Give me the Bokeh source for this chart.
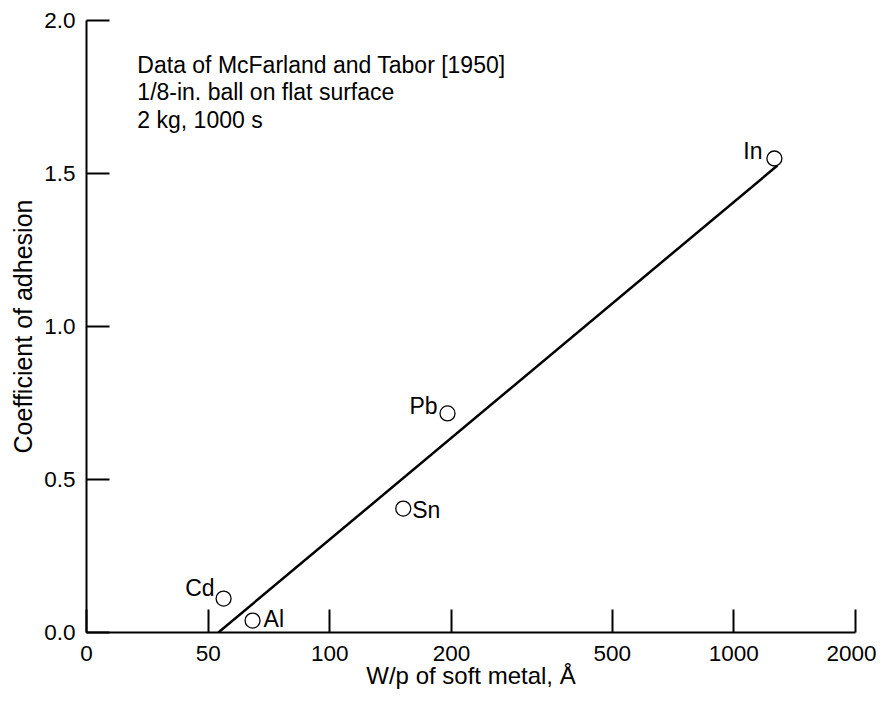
from bokeh.plotting import figure
from bokeh.models import Range1d, FixedTicker, PrintfTickFormatter, Label, ColumnDataSource
from bokeh.embed import file_html
from bokeh.resources import INLINE
from bokeh.core.properties import value

# ---- data ----
metals = ["Cd", "Al", "Sn", "Pb", "In"]
w_over_p = [54.6, 64.4, 152.0, 195.6, 1260.0]          # W/p of soft metal, Å
adhesion = [0.111, 0.039, 0.405, 0.716, 1.549]          # coefficient of adhesion
fit_x = [53.0, 1282.0]
fit_y = [0.0, 1.526]
x_ticks = [25, 50, 100, 200, 500, 1000, 2000]
x_tick_labels = ["0", "50", "100", "200", "500", "1000", "2000"]
y_ticks = [0.0, 0.5, 1.0, 1.5, 2.0]
notes = ["Data of McFarland and Tabor [1950]", "1/8-in. ball on flat surface", "2 kg, 1000 s"]

# ---- styling / placement (not data) ----
FONT = "Liberation Sans"
lab_align = ["right", "left", "left", "right", "right"]
lab_dx = [-9, 11, 9, -10, -12]
lab_dy = [-10.5, -2, 1.5, -7.5, -8]
note_x = 33.4
note_y = [1.853, 1.765, 1.676]

p = figure(width=876, height=696, x_axis_type="log",
           x_range=Range1d(25, 2000), y_range=Range1d(0, 2),
           output_backend="svg", toolbar_location=None,
           min_border_left=86, min_border_right=21, min_border_top=20, min_border_bottom=64)
p.outline_line_color = None
p.xgrid.visible = False
p.ygrid.visible = False
p.background_fill_color = "white"
p.border_fill_color = "white"

for ax in (p.xaxis[0], p.yaxis[0]):
    ax.axis_line_color = "black"
    ax.axis_line_width = 2
    ax.major_tick_line_color = "black"
    ax.major_tick_line_width = 2
    ax.major_tick_in = 23
    ax.major_tick_out = 0
    ax.minor_tick_line_color = None
    ax.major_label_text_font = FONT
    ax.major_label_text_font_size = "22.5px"
    ax.major_label_text_color = "black"
    ax.axis_label_text_font = FONT
    ax.axis_label_text_font_style = "normal"
    ax.axis_label_text_color = "black"

p.xaxis[0].ticker = FixedTicker(ticks=x_ticks)
p.xaxis[0].major_label_overrides = {t: s for t, s in zip(x_ticks, x_tick_labels)}
p.xaxis[0].major_label_standoff = 13
p.xaxis[0].axis_label = "W/p of soft metal, Å"
p.xaxis[0].axis_label_text_font_size = "24px"
p.xaxis[0].axis_label_standoff = -2

p.yaxis[0].ticker = FixedTicker(ticks=y_ticks)
p.yaxis[0].formatter = PrintfTickFormatter(format="%.1f")
p.yaxis[0].major_label_standoff = 11
p.yaxis[0].axis_label = "Coefficient of adhesion"
p.yaxis[0].axis_label_text_font_size = "25px"
p.yaxis[0].axis_label_standoff = 4

# fitted line
p.line(fit_x, fit_y, line_color="black", line_width=2.5)

# points
src = ColumnDataSource(dict(x=w_over_p, y=adhesion, name=metals,
                            align=lab_align, dx=lab_dx, dy=lab_dy))
p.scatter("x", "y", source=src, marker="circle", size=15,
          fill_color="white", line_color="black", line_width=1.3)
p.text("x", "y", text="name", source=src, text_align="align",
       x_offset="dx", y_offset="dy", text_baseline="middle",
       text_font=value(FONT), text_font_size="23px", text_color="black")

# annotation text
for t, yy in zip(notes, note_y):
    p.add_layout(Label(x=note_x, y=yy, text=t, text_font=FONT, text_font_size="23px",
                       text_color="black", text_baseline="middle", text_align="left"))

open("out.html", "w").write(file_html(p, INLINE))
